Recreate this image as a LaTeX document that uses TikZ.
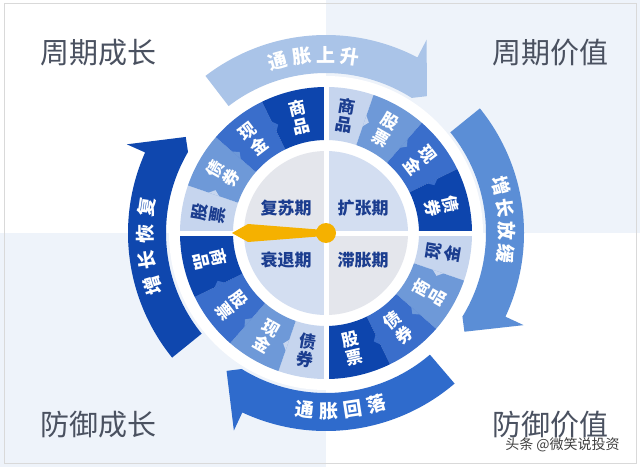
\documentclass[tikz,border=0pt]{standalone}
\usepackage{fontspec}
\setmainfont{Noto Sans CJK SC}
\definecolor{cA}{HTML}{C6D5EE}
\definecolor{cB}{HTML}{6E99D8}
\definecolor{cC}{HTML}{3A6ECB}
\definecolor{cD}{HTML}{0D45AD}
\definecolor{navy}{HTML}{1B3D8F}
\definecolor{bgq}{HTML}{EEF3FA}
\definecolor{diskG}{HTML}{E4E6EC}
\definecolor{diskB}{HTML}{D3DEF1}
\definecolor{arTop}{HTML}{AAC4E8}
\definecolor{arRight}{HTML}{5B8ED6}
\definecolor{arBottom}{HTML}{2F6BCC}
\definecolor{arLeft}{HTML}{0F47AE}
\definecolor{gold}{HTML}{F5B100}
\definecolor{cornergray}{HTML}{4A5160}
\tikzset{
  segtxt/.style={font=\bfseries\fontsize{17}{17}\selectfont, inner sep=0pt},
  disktxt/.style={font=\bfseries\fontsize{17}{17}\selectfont, text=navy, inner sep=0pt},
  arrtxt/.style={font=\bfseries\fontsize{19}{19}\selectfont, text=white, inner sep=0pt},
  cornertxt/.style={font=\fontsize{29}{29}\selectfont, text=cornergray, inner sep=0pt},
}
% annular sector of the ring
\newcommand\ringseg[3]{%
  \fill[#3] (#1:93pt) arc[start angle=#1, end angle=#2, radius=93pt]
    -- (#2:146pt) arc[start angle=#2, end angle=#1, radius=146pt] -- cycle;}
% small tooth on a boundary, pointing clockwise
\newcommand\ringtooth[2]{%
  \fill[#2] (#1:113pt) -- (#1:124pt) -- ({#1-2.2}:118.5pt) -- cycle;}
% one quadrant of the ring (#1 = start angle, segments run clockwise)
\newcommand\ringquad[1]{%
  \pgfmathsetmacro\qA{#1}%
  \pgfmathsetmacro\qB{#1-19}%
  \pgfmathsetmacro\qC{#1-41}%
  \pgfmathsetmacro\qD{#1-64}%
  \pgfmathsetmacro\qE{#1-90}%
  \ringseg{\qA}{\qB}{cA}\ringseg{\qB}{\qC}{cB}%
  \ringseg{\qC}{\qD}{cC}\ringseg{\qD}{\qE}{cD}%
  \ringtooth{\qB}{cA}\ringtooth{\qC}{cB}\ringtooth{\qD}{cC}}
% label of a ring segment: #1 start, #2 end, #3 first char, #4 second char, #5 colour, #6 name
\newcommand\seglabel[6]{%
  \pgfmathsetmacro\qMid{(#1+#2)/2}%
  \pgfmathsetmacro\qUp{sin(\qMid)>0 ? 1 : 0}%
  \pgfmathsetmacro\qRot{\qUp>0 ? \qMid-90 : \qMid+90}%
  \pgfmathsetmacro\qRa{\qUp>0 ? 128.3 : 109.7}%
  \pgfmathsetmacro\qRb{\qUp>0 ? 109.7 : 128.3}%
  \node[segtxt, text=#5, rotate=\qRot] (#6a) at (\qMid:\qRa pt) {#3};
  \node[segtxt, text=#5, rotate=\qRot] (#6b) at (\qMid:\qRb pt) {#4};}
% outer curved arrow: #1 tail, #2 barb, #3 tip angle, #4 colour
\newcommand\outarrow[4]{%
  \fill[#4] (#1:198pt) arc[start angle=#1, end angle=#2, radius=198pt]
    -- (#2:218pt) -- (#3:170pt) -- ({#3+4}:160pt)
    arc[start angle={#3+4}, end angle=#1, radius=160pt] -- cycle;}

\begin{document}
\begin{tikzpicture}[x=1pt,y=1pt]
\useasboundingbox (0,0) rectangle (640,467);
% background quadrants
\fill[white] (0,0) rectangle (640,467);
\fill[bgq] (326,234) rectangle (640,467);
\fill[bgq] (0,0) rectangle (326,234);
\draw[black!15, line width=1pt] (4,4) rectangle (636,463);

% corner titles
\node[cornertxt] (tl) at (98.5,414.5) {周期成长};
\node[cornertxt] (tr) at (550.5,414.5) {周期价值};
\node[cornertxt] (bl) at (98.5,42.5) {防御成长};
\node[cornertxt] (br) at (550.5,42.5) {防御价值};
\node[font=\fontsize{14}{14}\selectfont, text=black!75, inner sep=0pt] (wm) at (562.5,22) {头条 @微笑说投资};

\begin{scope}[shift={(326,234)}]
  % white halo
  \fill[white] (0,0) circle[radius=157pt];
  % outer arrows
  \outarrow{39}{-25}{-35.5}{arRight}
  \outarrow{127.5}{62.5}{53.6}{arTop}
  \outarrow{219}{156}{145.6}{arLeft}
  \outarrow{310.5}{245}{234.2}{arBottom}
  % arrow texts
  \foreach \ch/\ang [count=\i] in {通/105.7, 胀/97.9, 上/90.1, 升/82.3}
    \node[arrtxt, rotate=\ang-90] (up\i) at (\ang:178pt) {\ch};
  \foreach \ch/\ang [count=\i] in {增/15.2, 长/7.9, 放/0.6, 缓/-6.7}
    \node[arrtxt, rotate=\ang-90] (rt\i) at (\ang:181pt) {\ch};
  \foreach \ch/\ang [count=\i] in {增/197, 长/188.6, 恢/180.2, 复/171.8}
    \node[arrtxt, rotate=\ang-90] (lf\i) at (\ang:181pt) {\ch};
  \foreach \ch/\ang [count=\i] in {通/263.1, 胀/270.9, 回/278.7, 落/286.5}
    \node[arrtxt, rotate=\ang+90] (dn\i) at (\ang:178pt) {\ch};

  % inner disk
  \fill[diskB] (0,0) -- (0:82pt) arc[start angle=0, end angle=90, radius=82pt] -- cycle;
  \fill[diskG] (0,0) -- (90:82pt) arc[start angle=90, end angle=180, radius=82pt] -- cycle;
  \fill[diskB] (0,0) -- (180:82pt) arc[start angle=180, end angle=270, radius=82pt] -- cycle;
  \fill[diskG] (0,0) -- (270:82pt) arc[start angle=270, end angle=360, radius=82pt] -- cycle;

  % ring
  \ringquad{180}
  \ringquad{90}
  \ringquad{0}
  \ringquad{270}

  % white cross
  \fill[white] (-2.5,-148) rectangle (2.5,148);
  \fill[white] (-148,-2.5) rectangle (148,2.5);

  % ring labels
  \seglabel{180}{161}{股}{票}{navy}{la}
  \seglabel{161}{139}{债}{券}{white}{lb}
  \seglabel{139}{116}{现}{金}{white}{lc}
  \seglabel{116}{90}{商}{品}{white}{ld}
  \seglabel{90}{71}{商}{品}{navy}{ra}
  \seglabel{71}{49}{股}{票}{white}{rb}
  \seglabel{49}{26}{现}{金}{white}{rc}
  \seglabel{26}{0}{债}{券}{white}{rd}
  \seglabel{0}{-19}{现}{金}{navy}{sa}
  \seglabel{-19}{-41}{商}{品}{white}{sb}
  \seglabel{-41}{-64}{债}{券}{white}{sc}
  \seglabel{-64}{-90}{股}{票}{white}{sd}
  \seglabel{270}{251}{债}{券}{navy}{ta}
  \seglabel{251}{229}{现}{金}{white}{tb}
  \seglabel{229}{206}{股}{票}{white}{tc}
  \seglabel{206}{180}{商}{品}{white}{td}

  % disk texts
  \node[disktxt] (fs) at (-40,25) {复苏期};
  \node[disktxt] (kz) at (37,25) {扩张期};
  \node[disktxt] (st) at (-40,-27) {衰退期};
  \node[disktxt] (zz) at (37,-27) {滞胀期};

  % pointer
  \fill[gold] (-94,0) -- (-78,9) -- (-8,3.5) -- (-8,-3.5) -- (-78,-9) -- cycle;
  \fill[gold] (0,0) circle[radius=10pt];
\end{scope}
\end{tikzpicture}
\end{document}
